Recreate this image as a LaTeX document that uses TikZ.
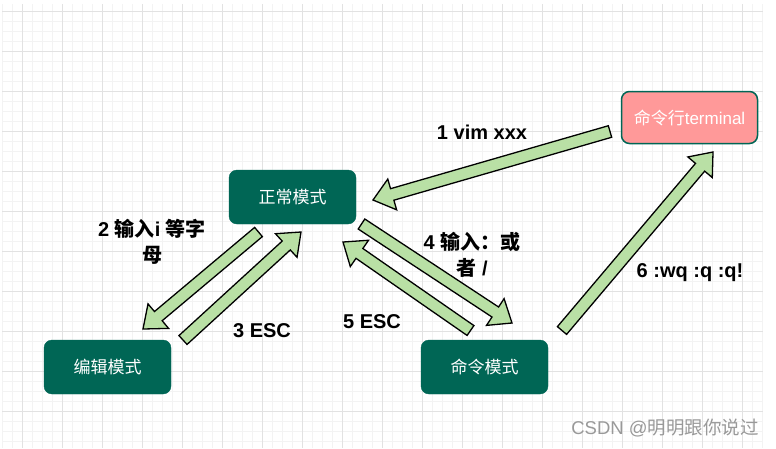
\documentclass[tikz,border=0pt]{standalone}
\usepackage{fontspec}
\setmainfont{Liberation Sans}
\newfontfamily\cjk{Noto Sans CJK SC}
\usetikzlibrary{calc}
\definecolor{tealbox}{HTML}{006655}
\definecolor{pinkbox}{HTML}{FF9999}
\definecolor{arrowgreen}{HTML}{B9E0A5}
\definecolor{gridminor}{HTML}{F3F3F3}
\definecolor{gridmajor}{HTML}{E2E2E2}
\tikzset{
  modebox/.style={rounded corners=8pt, fill=tealbox, draw=tealbox, text=white,
    minimum width=127pt, minimum height=54pt, inner sep=0pt,
    font=\fontsize{17}{20}\selectfont},
  termbox/.style={modebox, fill=pinkbox, line width=1.5pt, minimum width=136pt, minimum height=52pt},
  lab/.style={font=\fontsize{20}{26}\selectfont\bfseries, align=center, inner sep=0pt, text=black},
  blk/.style={fill=arrowgreen, draw=black, line width=1.3pt, line join=miter},
  minorline/.style={draw=gridminor, line width=0.8pt},
  majorline/.style={draw=gridmajor, line width=1pt}
}
\newcommand\blkarrow[2]{%
  \coordinate (hb) at ($(#2)!20pt!(#1)$);
  \draw[blk] ($(#1)!6pt!90:(#2)$) -- ($(hb)!6pt!90:(#2)$) -- ($(hb)!16pt!90:(#2)$)
    -- (#2) -- ($(hb)!16pt!-90:(#2)$) -- ($(hb)!6pt!-90:(#2)$)
    -- ($(#1)!6pt!-90:(#2)$) -- cycle;}
\begin{document}
\begin{tikzpicture}[x=1pt,y=-1pt]
\useasboundingbox (0,0) rectangle (776,448);
\fill[white] (0,0) rectangle (776,448);
% grid
\foreach \x in {2,12,...,762} \draw[minorline] (\x,4) -- (\x,448);
\foreach \y in {11,21,...,441} \draw[minorline] (2,\y) -- (763,\y);
\foreach \x in {22,62,...,742} \draw[majorline] (\x,4) -- (\x,448);
\foreach \y in {11,51,...,441} \draw[majorline] (2,\y) -- (763,\y);
% nodes
\node[termbox] (term) at (689.5,117.5) {{\cjk 命令行}terminal};
\node[modebox] (normal) at (292.5,197) {\cjk 正常模式};
\node[modebox] (edit) at (107.5,367) {\cjk 编辑模式};
\node[modebox] (cmd) at (484.5,367) {\cjk 命令模式};
% arrow end points
\coordinate (a1s) at (610,131.5); \coordinate (a1e) at (373,200);
\coordinate (a2s) at (258.5,232); \coordinate (a2e) at (143,329);
\coordinate (a3s) at (183,340);   \coordinate (a3e) at (301,232);
\coordinate (a4s) at (361.5,224); \coordinate (a4e) at (512,323);
\coordinate (a5s) at (470.5,330.5); \coordinate (a5e) at (343,242);
\coordinate (a6s) at (562,330.5); \coordinate (a6e) at (713,152);
\blkarrow{a1s}{a1e}
\blkarrow{a2s}{a2e}
\blkarrow{a3s}{a3e}
\blkarrow{a4s}{a4e}
\blkarrow{a5s}{a5e}
\blkarrow{a6s}{a6e}
% labels
\node[lab] (l1) at (482,132) {1 vim xxx};
\node[lab] (l2) at (152,242) {2 {\cjk 输入}i {\cjk 等字}\\{\cjk 母}};
\node[lab] (l3) at (262,331) {3 ESC};
\node[lab] (l4) at (472,255) {4 {\cjk 输入：或}\\{\cjk 者} /};
\node[lab] (l5) at (372,322) {5 ESC};
\node[lab] (l6) at (690,273) {6 :wq :q :q!};
\node[text=black!40, font=\fontsize{18.5}{22}\selectfont, inner sep=0pt] (wm) at (665,428) {CSDN @{\cjk 明明跟你说过}};
\end{tikzpicture}
\end{document}
